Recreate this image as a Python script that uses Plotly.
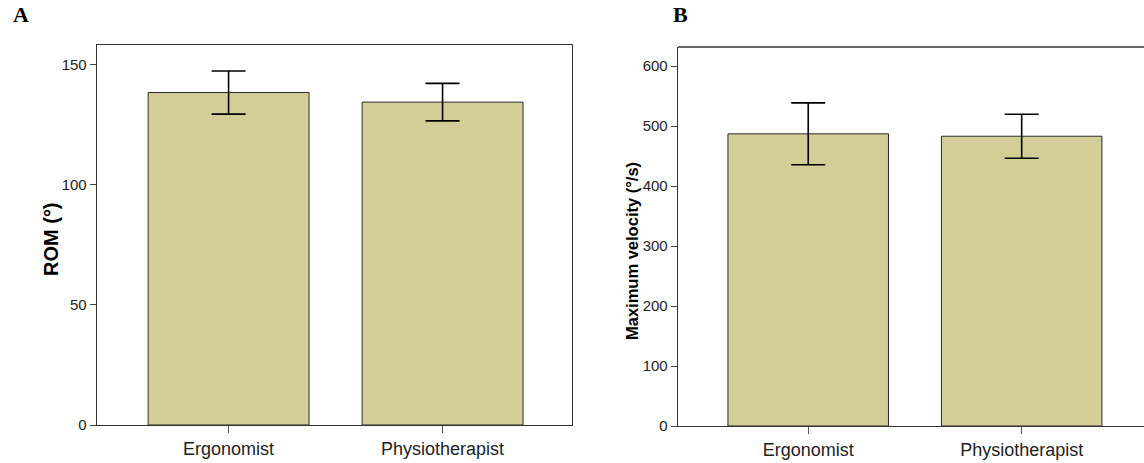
import plotly.graph_objects as go

categories = ["Ergonomist", "Physiotherapist"]
rom_mean = [138.5, 134.5]
rom_err = [9.0, 7.8]
vel_mean = [487, 483]
vel_err = [51.5, 36.7]
rom_ticks = [0, 50, 100, 150]
vel_ticks = [0, 100, 200, 300, 400, 500, 600]

W, H = 1144, 463
BAR = "#D3CE98"
EDGE = "#2b2b2b"

def px(x):
    return x / W

def py(y):
    return 1 - y / H

fig = go.Figure()
fig.add_trace(go.Bar(
    x=[0, 1], y=rom_mean, width=0.752,
    marker=dict(color=BAR, line=dict(color=EDGE, width=1)),
    error_y=dict(type="data", array=rom_err, visible=True, color="black", thickness=1.6, width=17),
    xaxis="x", yaxis="y", showlegend=False,
))
fig.add_trace(go.Bar(
    x=[0, 1], y=vel_mean, width=0.752,
    marker=dict(color=BAR, line=dict(color=EDGE, width=1)),
    error_y=dict(type="data", array=vel_err, visible=True, color="black", thickness=1.6, width=17),
    xaxis="x2", yaxis="y2", showlegend=False,
))

tickfont_y = dict(family="Liberation Sans, Arial, sans-serif", size=15, color="#222")
tickfont_x = dict(family="Liberation Sans, Arial, sans-serif", size=18, color="#222")

common_x = dict(
    tickmode="array", tickvals=[0, 1], ticktext=categories,
    showline=True, linecolor="#333", linewidth=1.3,
    ticks="outside", ticklen=7, tickcolor="#555", tickwidth=1,
    showgrid=False, zeroline=False, tickfont=tickfont_x, automargin=False,
    fixedrange=True,
)
common_y = dict(
    showline=True, linecolor="#333", linewidth=1.3,
    ticks="outside", ticklen=6, tickcolor="#444", tickwidth=1,
    showgrid=False, zeroline=False, tickfont=tickfont_y, automargin=False,
    tickmode="array",
)

fig.update_layout(
    width=W, height=H,
    margin=dict(l=0, r=0, t=0, b=0),
    paper_bgcolor="white", plot_bgcolor="white",
    xaxis=dict(domain=[px(97), px(572)], range=[-0.615, 1.605], anchor="y", mirror=True, **common_x),
    yaxis=dict(domain=[py(425), py(45)], range=[0, 158.3], anchor="x", mirror=True,
               tickvals=rom_ticks, **common_y),
    xaxis2=dict(domain=[px(678), 1.0], range=[-0.61, 1.573], anchor="y2", **common_x),
    yaxis2=dict(domain=[py(426), py(47)], range=[0, 631.7], anchor="x2",
                tickvals=vel_ticks, **common_y),
    shapes=[
        dict(type="line", xref="x2 domain", yref="y2 domain", x0=0, x1=1, y0=1, y1=1,
             line=dict(color="#333", width=1.3)),
    ],
    annotations=[
        dict(text="<b>A</b>", x=px(11), y=py(29), xref="paper", yref="paper",
             xanchor="left", yanchor="bottom", showarrow=False,
             font=dict(family="Liberation Serif, Times New Roman, serif", size=22, color="black")),
        dict(text="<b>B</b>", x=px(671), y=py(29), xref="paper", yref="paper",
             xanchor="left", yanchor="bottom", showarrow=False,
             font=dict(family="Liberation Serif, Times New Roman, serif", size=22, color="black")),
        dict(text="<b>ROM (°)</b>", x=px(51), y=py(239), xref="paper", yref="paper",
             xanchor="center", yanchor="middle", textangle=-90, showarrow=False,
             font=dict(family="Liberation Sans, Arial, sans-serif", size=20, color="black")),
        dict(text="<b>Maximum velocity (°/s)</b>", x=px(632), y=py(251), xref="paper", yref="paper",
             xanchor="center", yanchor="middle", textangle=-90, showarrow=False,
             font=dict(family="Liberation Sans, Arial, sans-serif", size=16.5, color="black")),
    ],
)

fig.write_html("out.html", config={"displayModeBar": False, "staticPlot": True})
with open("out.html", "r", encoding="utf-8") as f:
    html = f.read()
html = html.replace("<head>", "<head><style>html,body{margin:0;padding:0;overflow:hidden;}</style>", 1)
with open("out.html", "w", encoding="utf-8") as f:
    f.write(html)
